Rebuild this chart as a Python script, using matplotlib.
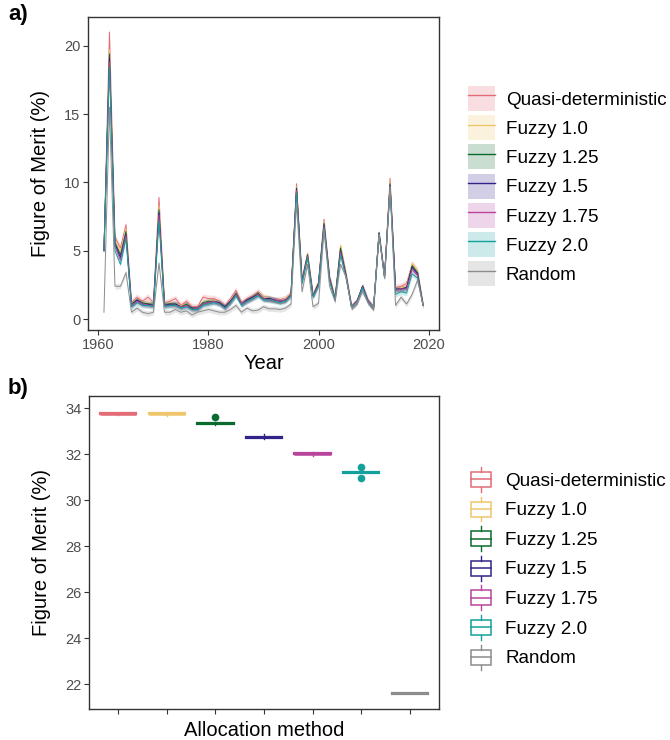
import matplotlib
matplotlib.use("Agg")
import matplotlib.pyplot as plt
import numpy as np
from matplotlib.patches import Patch, Rectangle
from matplotlib.lines import Line2D
from matplotlib.legend_handler import HandlerBase

plt.rcParams['font.family'] = ['Liberation Sans', 'DejaVu Sans']

# ---------------- data ----------------
methods = ["Quasi-deterministic", "Fuzzy 1.0", "Fuzzy 1.25", "Fuzzy 1.5",
           "Fuzzy 1.75", "Fuzzy 2.0", "Random"]
colors = ["#E36C76", "#EFC66C", "#0B6B2E", "#30248A", "#B9449C", "#14A19B", "#8C8C8C"]

years = list(range(1961, 2020))

quasi = [5.0, 21.0, 6.0, 5.2, 6.9, 1.2, 1.6, 1.3, 1.6, 1.2,
         8.9, 1.2, 1.3, 1.5, 1.0, 1.3, 0.9, 0.9, 1.6, 1.5,
         1.5, 1.3, 1.0, 1.5, 2.1, 1.2, 1.5, 1.7, 2.0, 1.6,
         1.5, 1.4, 1.4, 1.5, 1.9, 9.9, 2.9, 4.8, 1.8, 2.7,
         7.3, 3.1, 1.5, 5.3, 3.3, 0.9, 1.3, 2.4, 1.3, 0.8,
         6.3, 3.1, 10.3, 2.3, 2.4, 2.6, 4.0, 3.5, 1.0]
fuzzy10 = [5.0, 19.7, 5.8, 4.9, 6.6, 1.1, 1.4, 1.2, 1.2, 1.1,
           8.3, 1.1, 1.2, 1.1, 1.0, 1.1, 0.8, 0.8, 1.2, 1.3,
           1.4, 1.2, 0.9, 1.3, 1.9, 1.1, 1.4, 1.6, 1.9, 1.6,
           1.5, 1.4, 1.3, 1.5, 1.9, 9.7, 2.9, 4.8, 1.8, 2.7,
           7.1, 3.1, 1.5, 5.4, 3.3, 0.9, 1.3, 2.4, 1.3, 0.8,
           6.3, 3.1, 10.0, 2.2, 2.3, 2.4, 4.1, 3.5, 1.0]
fuzzy125 = [5.0, 19.4, 5.6, 4.7, 6.4, 1.1, 1.4, 1.2, 1.1, 1.1,
            8.0, 1.1, 1.1, 1.1, 0.9, 1.1, 0.8, 0.8, 1.2, 1.3,
            1.3, 1.2, 0.9, 1.3, 1.9, 1.1, 1.4, 1.6, 1.9, 1.5,
            1.5, 1.4, 1.3, 1.4, 1.8, 9.6, 2.8, 4.7, 1.7, 2.6,
            7.0, 3.0, 1.5, 5.2, 3.2, 0.9, 1.3, 2.4, 1.3, 0.8,
            6.3, 3.1, 9.9, 2.2, 2.2, 2.3, 3.9, 3.4, 1.0]
fuzzy15 = [5.0, 19.1, 5.5, 4.5, 6.2, 1.0, 1.4, 1.1, 1.1, 1.0,
           7.8, 1.0, 1.1, 1.1, 0.9, 1.0, 0.8, 0.8, 1.1, 1.2,
           1.3, 1.2, 0.9, 1.3, 1.8, 1.1, 1.4, 1.6, 1.8, 1.5,
           1.5, 1.4, 1.3, 1.4, 1.8, 9.5, 2.8, 4.6, 1.7, 2.6,
           6.9, 3.0, 1.4, 5.0, 3.2, 0.9, 1.3, 2.4, 1.3, 0.8,
           6.3, 3.1, 9.8, 2.2, 2.2, 2.3, 3.8, 3.3, 1.0]
fuzzy175 = [5.0, 18.8, 5.3, 4.3, 6.1, 1.0, 1.3, 1.1, 1.0, 1.0,
            7.6, 1.0, 1.0, 1.0, 0.9, 1.0, 0.7, 0.8, 1.1, 1.2,
            1.3, 1.1, 0.8, 1.2, 1.8, 1.1, 1.3, 1.5, 1.8, 1.5,
            1.4, 1.4, 1.3, 1.4, 1.8, 9.4, 2.7, 4.6, 1.7, 2.5,
            6.8, 2.9, 1.4, 4.9, 3.1, 0.9, 1.3, 2.3, 1.3, 0.8,
            6.2, 3.1, 9.7, 2.1, 2.2, 2.2, 3.6, 3.2, 1.0]
fuzzy20 = [5.0, 18.4, 5.0, 4.0, 5.9, 0.9, 1.2, 1.0, 1.0, 0.9,
           7.2, 0.9, 1.0, 1.0, 0.8, 0.9, 0.7, 0.7, 1.0, 1.1,
           1.2, 1.1, 0.8, 1.2, 1.7, 1.0, 1.3, 1.5, 1.7, 1.4,
           1.4, 1.3, 1.2, 1.3, 1.7, 9.2, 2.6, 4.5, 1.6, 2.4,
           6.7, 2.8, 1.4, 4.7, 3.0, 0.9, 1.2, 2.3, 1.2, 0.8,
           6.2, 3.0, 9.6, 1.8, 2.0, 1.9, 3.3, 3.0, 1.0]
random_fom = [0.5, 15.5, 2.4, 2.4, 3.4, 0.5, 0.8, 0.5, 0.4, 0.5,
              4.1, 0.5, 0.5, 0.7, 0.5, 0.6, 0.3, 0.5, 0.6, 0.7,
              0.6, 0.5, 0.5, 0.7, 1.0, 0.5, 0.8, 0.6, 0.65, 0.9,
              0.75, 0.75, 0.7, 0.8, 1.1, 8.5, 2.0, 4.0, 0.9, 1.15,
              6.5, 2.4, 1.3, 4.0, 3.1, 0.8, 1.2, 2.0, 1.2, 0.8,
              6.2, 3.0, 9.7, 1.0, 1.6, 1.1, 1.8, 2.85, 1.0]
ci_halfwidth = [0.25, 0.2, 0.2, 0.2, 0.2, 0.2, 0.2]

series = [quasi, fuzzy10, fuzzy125, fuzzy15, fuzzy175, fuzzy20, random_fom]

# panel b summary statistics (Figure of Merit, %)
box_median = [33.76, 33.75, 33.34, 32.73, 32.02, 31.22, 21.61]
box_q1 = [33.74, 33.73, 33.32, 32.71, 32.00, 31.20, 21.59]
box_q3 = [33.78, 33.77, 33.36, 32.75, 32.04, 31.24, 21.63]
box_whislo = [33.72, 33.68, 33.27, 32.66, 31.93, 31.18, 21.57]
box_whishi = [33.81, 33.84, 33.39, 32.86, 32.10, 31.27, 21.64]
box_fliers = [[], [], [33.61], [], [], [31.43, 30.96], []]

# ---------------- figure ----------------
W, H = 670, 740
fig = plt.figure(figsize=(W / 100, H / 100), dpi=100)

tick_color = "#4D4D4D"
frame_color = "#333333"


def style_axes(ax):
    for s in ax.spines.values():
        s.set_color(frame_color)
        s.set_linewidth(1.0)
    ax.tick_params(direction='out', length=3.5, width=0.8, color=frame_color,
                   labelcolor=tick_color, labelsize=10.5, pad=2)


# ---- panel a ----
ax1 = fig.add_axes([88 / W, 1 - 330 / H, 351 / W, 313 / H])
yrs = np.array(years)
for vals, col, hw in zip(series, colors, ci_halfwidth):
    v = np.array(vals)
    ax1.fill_between(yrs, v - hw, v + hw, color=col, alpha=0.22, lw=0)
for vals, col in zip(series, colors):
    ax1.plot(yrs, vals, color=col, lw=0.7)
ax1.set_xlim(1958.1, 2021.9)
ax1.set_ylim(-0.8, 22.1)
ax1.set_xticks([1960, 1980, 2000, 2020])
ax1.set_yticks([0, 5, 10, 15, 20])
style_axes(ax1)
ax1.set_xlabel("Year", fontsize=14.5, labelpad=2)
ax1.set_ylabel("Figure of Merit (%)", fontsize=14.5)
ax1.yaxis.set_label_coords(-0.108, 0.5)

handles_a = [(Patch(facecolor=c, alpha=0.22, lw=0), Line2D([], [], color=c, lw=1.0))
             for c in colors]
fig.legend(handles_a, methods, loc='upper left', bbox_to_anchor=(468 / W, 1 - 86 / H),
           frameon=False, fontsize=13.6, handlelength=1.43, handleheight=1.65,
           labelspacing=0.23, handletextpad=0.58, borderpad=0, borderaxespad=0)

# ---- panel b ----
ax2 = fig.add_axes([89 / W, 1 - 709 / H, 350 / W, 313 / H])
stats = []
for i in range(len(methods)):
    stats.append(dict(med=box_median[i], q1=box_q1[i], q3=box_q3[i],
                      whislo=box_whislo[i], whishi=box_whishi[i],
                      fliers=box_fliers[i], label=methods[i]))
pos = np.arange(1, len(methods) + 1)
bp = ax2.bxp(stats, positions=pos, widths=0.75, patch_artist=True,
             showcaps=False, showfliers=True)
for i, col in enumerate(colors):
    bp['boxes'][i].set_facecolor('white')
    bp['boxes'][i].set_edgecolor(col)
    bp['boxes'][i].set_linewidth(1.6)
    bp['medians'][i].set_color(col)
    bp['medians'][i].set_linewidth(1.8)
    for w in bp['whiskers'][2 * i:2 * i + 2]:
        w.set_color(col)
        w.set_linewidth(1.0)
    fl = bp['fliers'][i]
    fl.set_marker('o')
    fl.set_markerfacecolor(col)
    fl.set_markeredgecolor(col)
    fl.set_markersize(4.5)
ax2.set_xlim(0.4, 7.6)
ax2.set_ylim(20.93, 34.53)
ax2.set_yticks([22, 24, 26, 28, 30, 32, 34])
ax2.set_xticks(pos)
ax2.set_xticklabels([""] * len(pos))
style_axes(ax2)
ax2.set_xlabel("Allocation method", fontsize=14.5, labelpad=3)
ax2.set_ylabel("Figure of Merit (%)", fontsize=14.5)
ax2.yaxis.set_label_coords(-0.108, 0.5)


class BoxKeyHandler(HandlerBase):
    def create_artists(self, legend, orig_handle, xdescent, ydescent, width,
                       height, fontsize, trans):
        c = orig_handle.get_edgecolor()
        x0, y0 = -xdescent, -ydescent
        bx0, bw = x0 + 0.1 * width, 0.8 * width
        by0, bh = y0 + 0.2 * height, 0.6 * height
        xc = x0 + width / 2
        rect = Rectangle((bx0, by0), bw, bh, facecolor='white', edgecolor=c,
                         lw=1.1, transform=trans)
        med = Line2D([bx0, bx0 + bw], [y0 + height / 2] * 2, color=c, lw=1.1,
                     transform=trans)
        wt = Line2D([xc, xc], [by0 + bh, y0 + height], color=c, lw=1.0, transform=trans)
        wb = Line2D([xc, xc], [y0, by0], color=c, lw=1.0, transform=trans)
        return [rect, med, wt, wb]


handles_b = [Patch(facecolor='white', edgecolor=c) for c in colors]
fig.legend(handles_b, methods, loc='upper left', bbox_to_anchor=(468 / W, 1 - 467 / H),
           frameon=False, fontsize=13.6, handlelength=1.35, handleheight=1.65,
           labelspacing=0.25, handletextpad=0.62, borderpad=0, borderaxespad=0,
           handler_map={Patch: BoxKeyHandler()})

fig.text(8 / W, 1 - 4 / H, "a)", fontsize=16, fontweight='bold', va='top', ha='left')
fig.text(8 / W, 1 - 378 / H, "b)", fontsize=16, fontweight='bold', va='top', ha='left')

fig.savefig("out.png", dpi=100)
